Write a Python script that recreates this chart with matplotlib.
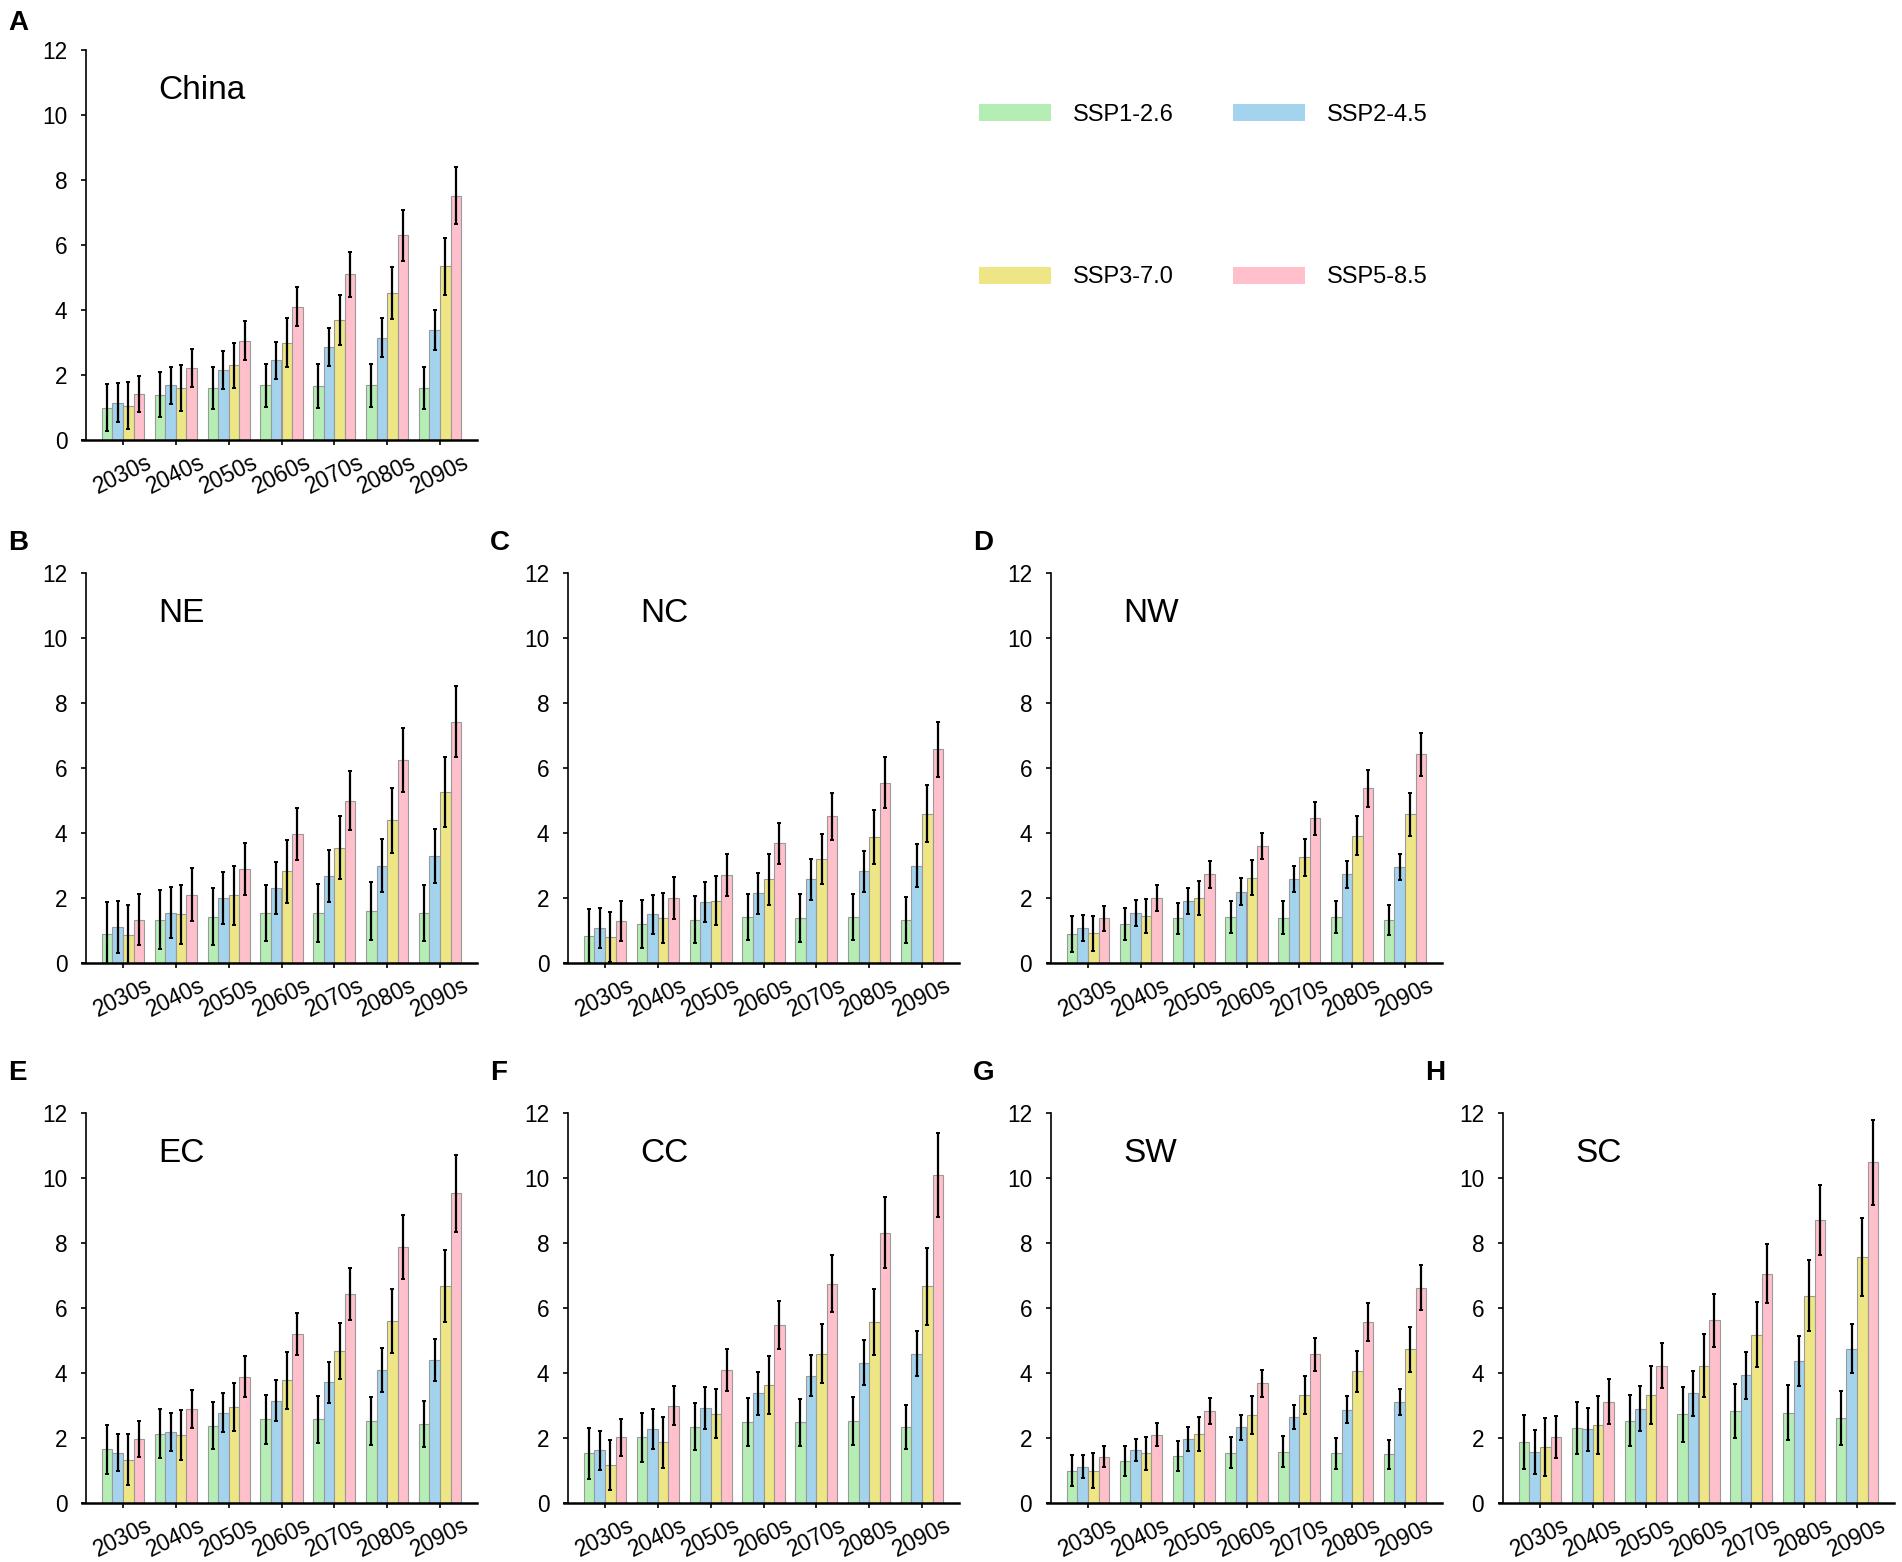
import matplotlib
matplotlib.use('Agg')
import matplotlib.pyplot as plt
from matplotlib.patches import Patch
import numpy as np

plt.rcParams['font.family'] = ['Liberation Sans', 'DejaVu Sans']

DECADES = ['2030s', '2040s', '2050s', '2060s', '2070s', '2080s', '2090s']
SCENARIOS = ['SSP1-2.6', 'SSP2-4.5', 'SSP3-7.0', 'SSP5-8.5']
COLORS = ['#B4EEB4', '#A4D3EE', '#EEE685', '#FFC0CB']
REGIONS = ['China', 'NE', 'NC', 'NW', 'EC', 'CC', 'SW', 'SC']
LETTERS = ['A', 'B', 'C', 'D', 'E', 'F', 'G', 'H']

# rows: SSP1-2.6, SSP2-4.5, SSP3-7.0, SSP5-8.5 ; columns: decades
CHINA_MEAN = [[1.00, 1.40, 1.60, 1.68, 1.65, 1.68, 1.60],
              [1.15, 1.68, 2.15, 2.45, 2.87, 3.15, 3.38],
              [1.05, 1.60, 2.30, 3.00, 3.70, 4.52, 5.35],
              [1.42, 2.22, 3.05, 4.10, 5.10, 6.30, 7.52]]
CHINA_ERR = [[0.73, 0.68, 0.66, 0.67, 0.68, 0.66, 0.64],
             [0.60, 0.58, 0.58, 0.58, 0.58, 0.60, 0.61],
             [0.72, 0.70, 0.70, 0.75, 0.77, 0.80, 0.88],
             [0.56, 0.58, 0.60, 0.60, 0.70, 0.78, 0.88]]

NE_MEAN = [[0.90, 1.33, 1.42, 1.55, 1.55, 1.60, 1.55],
           [1.10, 1.55, 2.00, 2.30, 2.68, 3.00, 3.28],
           [0.87, 1.50, 2.08, 2.82, 3.55, 4.40, 5.27],
           [1.33, 2.10, 2.90, 3.97, 5.00, 6.25, 7.42]]
NE_ERR = [[0.97, 0.91, 0.88, 0.86, 0.89, 0.88, 0.86],
          [0.80, 0.79, 0.79, 0.80, 0.80, 0.81, 0.83],
          [0.91, 0.91, 0.91, 0.97, 0.96, 1.00, 1.07],
          [0.78, 0.81, 0.80, 0.80, 0.90, 0.98, 1.09]]

NC_MEAN = [[0.83, 1.20, 1.33, 1.42, 1.38, 1.42, 1.33],
           [1.08, 1.50, 1.88, 2.15, 2.57, 2.83, 3.00],
           [0.80, 1.38, 1.92, 2.57, 3.20, 3.88, 4.60],
           [1.30, 2.00, 2.70, 3.68, 4.52, 5.55, 6.57]]
NC_ERR = [[0.82, 0.74, 0.72, 0.71, 0.73, 0.71, 0.70],
          [0.62, 0.60, 0.62, 0.63, 0.62, 0.63, 0.65],
          [0.77, 0.77, 0.75, 0.79, 0.78, 0.83, 0.89],
          [0.61, 0.66, 0.64, 0.63, 0.72, 0.78, 0.86]]

NW_MEAN = [[0.90, 1.20, 1.37, 1.42, 1.40, 1.42, 1.33],
           [1.08, 1.55, 1.92, 2.20, 2.57, 2.73, 2.95],
           [0.92, 1.45, 2.00, 2.63, 3.25, 3.92, 4.57],
           [1.37, 2.00, 2.73, 3.60, 4.45, 5.37, 6.42]]
NW_ERR = [[0.55, 0.48, 0.47, 0.50, 0.50, 0.50, 0.46],
          [0.39, 0.40, 0.40, 0.41, 0.40, 0.41, 0.41],
          [0.54, 0.53, 0.53, 0.55, 0.57, 0.60, 0.65],
          [0.37, 0.41, 0.41, 0.41, 0.50, 0.57, 0.66]]

EC_MEAN = [[1.65, 2.13, 2.38, 2.57, 2.57, 2.52, 2.43],
           [1.55, 2.18, 2.78, 3.15, 3.72, 4.10, 4.40],
           [1.33, 2.10, 2.95, 3.77, 4.68, 5.60, 6.67],
           [1.97, 2.90, 3.88, 5.20, 6.42, 7.88, 9.53]]
EC_ERR = [[0.76, 0.75, 0.72, 0.74, 0.73, 0.75, 0.72],
          [0.56, 0.58, 0.60, 0.62, 0.63, 0.67, 0.64],
          [0.79, 0.77, 0.74, 0.88, 0.86, 0.98, 1.10],
          [0.56, 0.59, 0.63, 0.66, 0.80, 0.99, 1.19]]

CC_MEAN = [[1.53, 2.02, 2.35, 2.48, 2.48, 2.53, 2.35],
           [1.62, 2.27, 2.92, 3.37, 3.92, 4.32, 4.60],
           [1.17, 1.87, 2.75, 3.63, 4.60, 5.57, 6.67],
           [2.02, 3.00, 4.10, 5.48, 6.75, 8.32, 10.10]]
CC_ERR = [[0.78, 0.75, 0.73, 0.74, 0.73, 0.74, 0.68],
          [0.59, 0.61, 0.64, 0.66, 0.64, 0.70, 0.69],
          [0.78, 0.78, 0.75, 0.90, 0.90, 1.02, 1.18],
          [0.58, 0.61, 0.65, 0.73, 0.88, 1.09, 1.30]]

SW_MEAN = [[1.00, 1.28, 1.45, 1.55, 1.58, 1.53, 1.50],
           [1.12, 1.63, 1.97, 2.33, 2.65, 2.87, 3.10],
           [1.00, 1.53, 2.13, 2.70, 3.33, 4.05, 4.73],
           [1.42, 2.10, 2.83, 3.68, 4.57, 5.57, 6.63]]
SW_ERR = [[0.49, 0.46, 0.46, 0.48, 0.48, 0.47, 0.44],
          [0.35, 0.34, 0.36, 0.39, 0.38, 0.41, 0.40],
          [0.53, 0.51, 0.53, 0.59, 0.59, 0.62, 0.70],
          [0.32, 0.36, 0.40, 0.41, 0.50, 0.59, 0.70]]

SC_MEAN = [[1.88, 2.30, 2.53, 2.73, 2.82, 2.78, 2.62],
           [1.57, 2.27, 2.90, 3.37, 3.93, 4.38, 4.75],
           [1.72, 2.40, 3.33, 4.22, 5.18, 6.38, 7.57],
           [2.02, 3.12, 4.23, 5.62, 7.05, 8.72, 10.48]]
SC_ERR = [[0.83, 0.80, 0.79, 0.85, 0.83, 0.85, 0.83],
          [0.69, 0.66, 0.69, 0.70, 0.73, 0.77, 0.75],
          [0.89, 0.89, 0.90, 0.97, 1.00, 1.10, 1.20],
          [0.65, 0.69, 0.70, 0.82, 0.91, 1.08, 1.30]]

MEANS = [CHINA_MEAN, NE_MEAN, NC_MEAN, NW_MEAN, EC_MEAN, CC_MEAN, SW_MEAN, SC_MEAN]
ERRS = [CHINA_ERR, NE_ERR, NC_ERR, NW_ERR, EC_ERR, CC_ERR, SW_ERR, SC_ERR]

W, H = 1902, 1562
fig = plt.figure(figsize=(W / 100, H / 100), dpi=100)

# layout in pixels: (spine x, axis top y) ; letter top y
AX_W, AX_H = 391, 390
POS = [(86, 50), (86, 573), (568, 573), (1051, 573),
       (86, 1113), (568, 1113), (1051, 1113), (1503, 1113)]
LETTER_TOP = [10, 530, 530, 530, 1060, 1060, 1060, 1060]

x = np.arange(len(DECADES))
bw = 0.2
offsets = [-0.3, -0.1, 0.1, 0.3]

for i, region in enumerate(REGIONS):
    px, py = POS[i]
    ax = fig.add_axes([px / W, 1 - (py + AX_H) / H, AX_W / W, AX_H / H])
    for s in range(4):
        ax.bar(x + offsets[s], MEANS[i][s], width=bw, color=COLORS[s],
               edgecolor='#9a9a9a', linewidth=0.8, label=SCENARIOS[s], zorder=2)
        ax.errorbar(x + offsets[s], MEANS[i][s], yerr=ERRS[i][s], fmt='none',
                    ecolor='black', elinewidth=1.6, capsize=1.6, capthick=1.4, zorder=3)
    ax.set_xlim(-0.70, 6.70)
    ax.set_ylim(0, 12)
    ax.set_yticks([0, 2, 4, 6, 8, 10, 12])
    ax.set_xticks(x)
    ax.set_xticklabels(DECADES, rotation=26, ha='center', fontsize=16.3)
    ax.tick_params(axis='y', labelsize=16.3, length=3.5, width=1.2, pad=10)
    ax.tick_params(axis='x', length=3.5, width=1.2, pad=4)
    for sp in ['top', 'right']:
        ax.spines[sp].set_visible(False)
    ax.spines['left'].set_linewidth(1.2)
    ax.spines['bottom'].set_linewidth(1.8)
    ax.spines['bottom'].set_bounds(-0.78, 6.70)
    ax.text(0.185, 0.897, region, transform=ax.transAxes, fontsize=24,
            va='center', ha='left')
    fig.text((px - 78) / W, 1 - LETTER_TOP[i] / H, LETTERS[i], fontsize=20,
             fontweight='bold', va='top', ha='left')

order = [0, 2, 1, 3]
handles = [Patch(facecolor=COLORS[k], edgecolor='none') for k in order]
fig.legend(handles, [SCENARIOS[k] for k in order],
           ncol=2, loc='upper left', bbox_to_anchor=(979 / W, 1 - 104 / H),
           frameon=False, fontsize=17, handlelength=3.05, handleheight=0.72,
           handletextpad=0.93, columnspacing=2.5, labelspacing=5.95,
           borderpad=0, borderaxespad=0)

fig.savefig('out.png', dpi=100)
